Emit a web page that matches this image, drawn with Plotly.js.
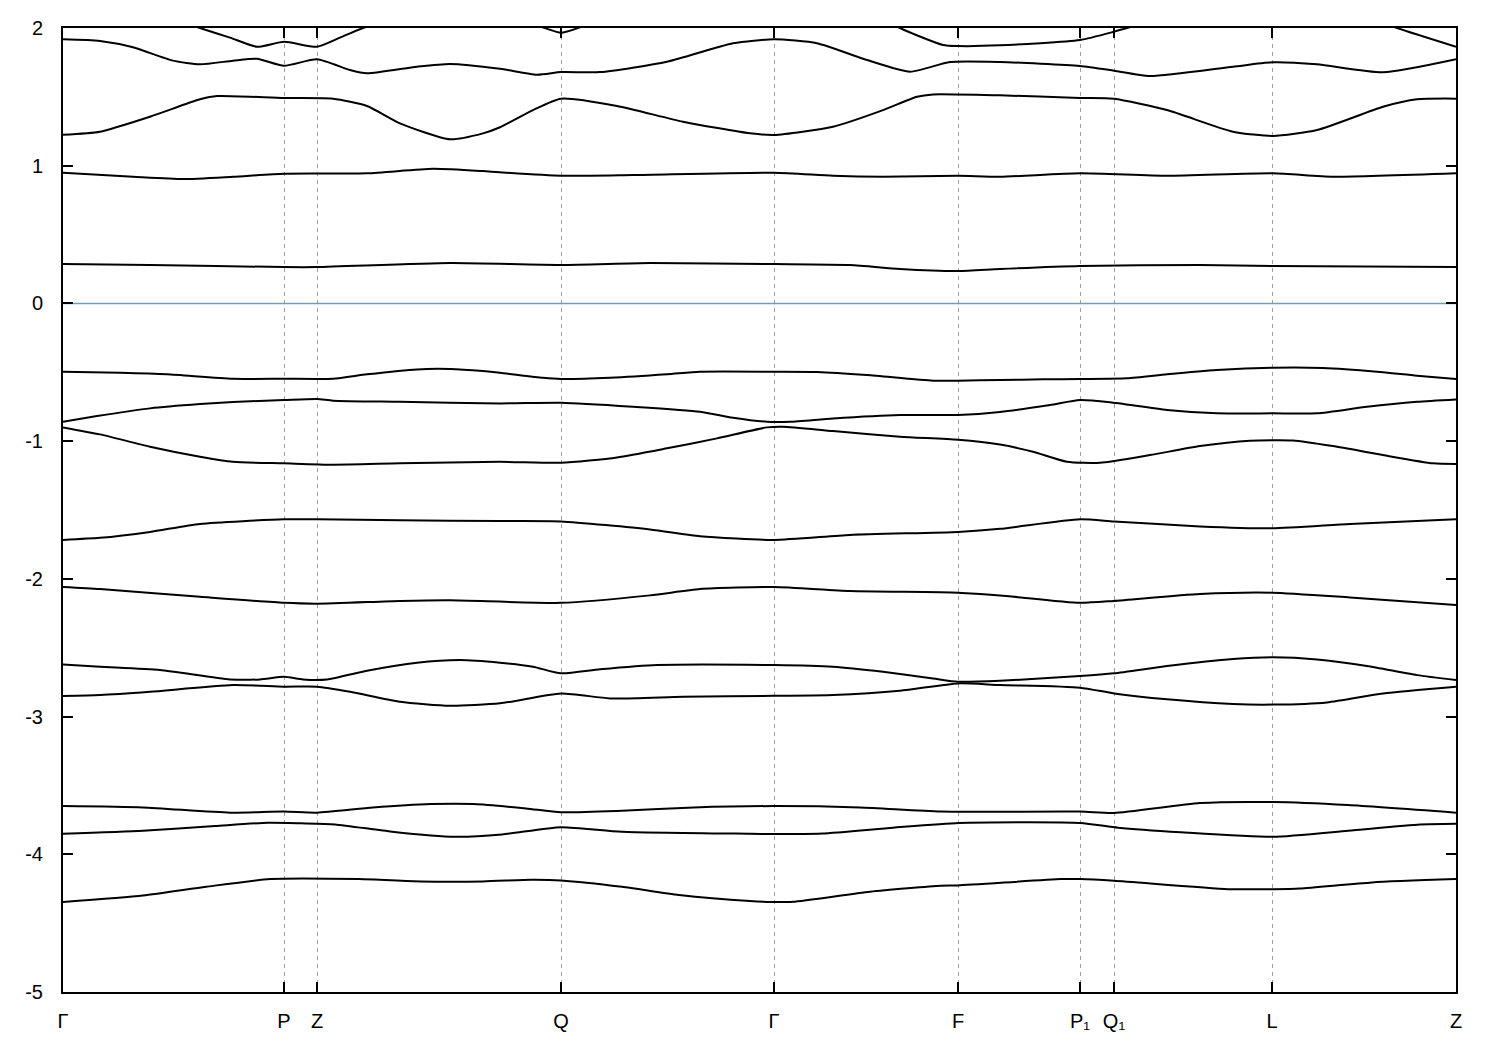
<!DOCTYPE html>
<html>
<head>
<meta charset="utf-8">
<script src="https://cdn.plot.ly/plotly-3.0.1.min.js"></script>
<style>html,body{margin:0;padding:0;background:#fff;}#chart{width:1500px;height:1050px;}</style>
</head>
<body>
<div id="chart"></div>
<script>
// High-symmetry points along the k-path
const kTicks = [0, 221, 254, 498, 711, 895, 1017, 1051, 1209, 1393];
const kLabels = ['Γ', 'P', 'Z', 'Q', 'Γ', 'F', 'P₁', 'Q₁', 'L', 'Z'];
const yTickVals = [-5, -4, -3, -2, -1, 0, 1, 2];
const yTickText = ['-5', '-4', '-3', '-2', '-1', '0', '1', '2'];
const fermiLevel = 0;

// Bands (k, energy in eV)
const bandA_k = [0, 80, 143, 207, 296, 358, 420, 468, 498, 559, 616, 687, 711, 730, 807, 878, 895, 998, 1017, 1051, 1165, 1210, 1237, 1309, 1393];
const bandA_E = [-4.347, -4.30, -4.236, -4.18, -4.18, -4.197, -4.197, -4.185, -4.19, -4.236, -4.296, -4.34, -4.347, -4.345, -4.272, -4.228, -4.226, -4.18, -4.18, -4.192, -4.253, -4.253, -4.248, -4.204, -4.18];

const bandB_k = [0, 80, 152, 205, 238, 272, 329, 392, 439, 498, 559, 687, 711, 759, 830, 896, 1017, 1055, 1118, 1210, 1285, 1357, 1393];
const bandB_E = [-3.851, -3.829, -3.795, -3.771, -3.775, -3.783, -3.836, -3.873, -3.856, -3.803, -3.836, -3.851, -3.853, -3.849, -3.807, -3.773, -3.773, -3.807, -3.84, -3.873, -3.829, -3.783, -3.778];

const bandC_k = [0, 80, 167, 221, 254, 310, 368, 411, 463, 498, 559, 631, 711, 797, 878, 1017, 1051, 1137, 1210, 1285, 1393];
const bandC_E = [-3.65, -3.66, -3.698, -3.69, -3.698, -3.66, -3.635, -3.635, -3.667, -3.695, -3.684, -3.66, -3.65, -3.66, -3.69, -3.69, -3.70, -3.628, -3.621, -3.643, -3.698];

const bandD_k = [0, 37, 97, 167, 197, 221, 240, 264, 304, 354, 397, 437, 470, 498, 537, 594, 711, 770, 820, 870, 895, 937, 1017, 1051, 1104, 1170, 1210, 1254, 1304, 1354, 1393];
const bandD_E = [-2.621, -2.638, -2.662, -2.73, -2.73, -2.711, -2.73, -2.73, -2.667, -2.609, -2.59, -2.609, -2.638, -2.686, -2.657, -2.626, -2.626, -2.638, -2.675, -2.723, -2.747, -2.74, -2.706, -2.686, -2.633, -2.582, -2.57, -2.585, -2.633, -2.699, -2.735];

const bandE_k = [0, 37, 87, 170, 221, 254, 287, 337, 387, 437, 498, 547, 620, 711, 770, 837, 895, 937, 1017, 1051, 1104, 1170, 1210, 1264, 1320, 1393];
const bandE_E = [-2.851, -2.844, -2.82, -2.771, -2.783, -2.783, -2.82, -2.892, -2.921, -2.904, -2.832, -2.868, -2.856, -2.849, -2.844, -2.813, -2.759, -2.771, -2.79, -2.832, -2.875, -2.909, -2.913, -2.897, -2.832, -2.783];

const bandF_k = [0, 37, 137, 221, 254, 337, 387, 498, 587, 637, 711, 787, 895, 937, 1017, 1051, 1137, 1209, 1287, 1393];
const bandF_E = [-2.059, -2.074, -2.13, -2.174, -2.18, -2.16, -2.155, -2.174, -2.12, -2.074, -2.059, -2.088, -2.10, -2.12, -2.174, -2.16, -2.11, -2.10, -2.135, -2.19];

const bandG_k = [0, 37, 87, 137, 221, 254, 337, 437, 498, 587, 637, 711, 787, 895, 937, 1017, 1051, 1137, 1209, 1287, 1393];
const bandG_E = [-1.717, -1.702, -1.659, -1.601, -1.568, -1.568, -1.575, -1.58, -1.583, -1.641, -1.691, -1.717, -1.681, -1.659, -1.637, -1.568, -1.583, -1.619, -1.633, -1.601, -1.568];

const bandH_k = [0, 57, 104, 170, 221, 270, 304, 354, 387, 420, 437, 480, 498, 547, 604, 637, 711, 754, 804, 870, 895, 937, 980, 1017, 1064, 1104, 1154, 1210, 1260, 1314, 1354, 1393];
const bandH_E = [-0.496, -0.504, -0.515, -0.547, -0.547, -0.547, -0.515, -0.479, -0.476, -0.491, -0.503, -0.54, -0.549, -0.54, -0.515, -0.496, -0.496, -0.498, -0.52, -0.561, -0.561, -0.556, -0.551, -0.549, -0.544, -0.515, -0.484, -0.467, -0.469, -0.496, -0.525, -0.549];

const bandI_k = [0, 34, 87, 137, 170, 221, 254, 270, 337, 437, 498, 570, 637, 670, 704, 727, 770, 837, 895, 937, 987, 1017, 1047, 1104, 1154, 1210, 1254, 1304, 1354, 1393];
const bandI_E = [-0.859, -0.818, -0.762, -0.731, -0.716, -0.702, -0.694, -0.706, -0.714, -0.726, -0.721, -0.75, -0.786, -0.83, -0.859, -0.859, -0.835, -0.81, -0.81, -0.788, -0.738, -0.702, -0.718, -0.774, -0.798, -0.798, -0.798, -0.75, -0.714, -0.697];

const bandJ_k = [0, 37, 87, 137, 170, 221, 270, 337, 437, 498, 554, 604, 654, 704, 720, 770, 837, 895, 937, 970, 1004, 1037, 1087, 1137, 1187, 1230, 1270, 1320, 1370, 1393];
const bandJ_E = [-0.90, -0.951, -1.04, -1.113, -1.15, -1.161, -1.171, -1.161, -1.15, -1.157, -1.118, -1.052, -0.98, -0.90, -0.895, -0.927, -0.968, -0.99, -1.025, -1.077, -1.15, -1.157, -1.101, -1.036, -0.997, -0.995, -1.036, -1.101, -1.161, -1.166];

const bandK_k = [0, 87, 221, 254, 387, 498, 587, 711, 787, 837, 895, 937, 1017, 1137, 1209, 1393];
const bandK_E = [0.286, 0.279, 0.264, 0.264, 0.293, 0.279, 0.293, 0.286, 0.279, 0.25, 0.235, 0.25, 0.272, 0.279, 0.272, 0.264];

const bandL_k = [0, 70, 120, 170, 221, 304, 370, 420, 437, 498, 570, 711, 770, 820, 895, 937, 1017, 1104, 1210, 1270, 1393];
const bandL_E = [0.949, 0.92, 0.903, 0.92, 0.942, 0.945, 0.978, 0.961, 0.952, 0.927, 0.932, 0.949, 0.927, 0.92, 0.927, 0.92, 0.945, 0.927, 0.945, 0.92, 0.945];

const bandM_k = [0, 37, 87, 137, 154, 221, 270, 304, 337, 387, 420, 437, 470, 498, 554, 620, 687, 711, 770, 820, 854, 870, 937, 1017, 1051, 1104, 1170, 1210, 1254, 1320, 1354, 1393];
const bandM_E = [1.225, 1.247, 1.356, 1.482, 1.506, 1.492, 1.487, 1.434, 1.308, 1.192, 1.235, 1.279, 1.404, 1.487, 1.434, 1.32, 1.235, 1.223, 1.283, 1.404, 1.501, 1.518, 1.511, 1.492, 1.487, 1.404, 1.247, 1.216, 1.259, 1.428, 1.482, 1.487];

const bandN_k = [0, 37, 70, 110, 137, 170, 194, 221, 254, 287, 304, 354, 387, 437, 474, 498, 537, 604, 670, 711, 754, 804, 847, 887, 937, 1017, 1051, 1087, 1170, 1210, 1254, 1320, 1393];
const bandN_E = [1.918, 1.906, 1.86, 1.763, 1.736, 1.763, 1.777, 1.726, 1.773, 1.695, 1.671, 1.719, 1.739, 1.704, 1.661, 1.68, 1.68, 1.755, 1.889, 1.918, 1.889, 1.768, 1.683, 1.753, 1.753, 1.724, 1.69, 1.651, 1.719, 1.751, 1.736, 1.678, 1.773];

const bandO_k = [0, 87, 137, 167, 194, 221, 254, 277, 300, 357, 437, 477, 498, 519, 587, 711, 787, 837, 880, 895, 937, 1017, 1051, 1064, 1137, 1210, 1287, 1334, 1393];
const bandO_E = [2.35, 2.12, 2.0, 1.93, 1.864, 1.90, 1.864, 1.93, 2.0, 2.12, 2.06, 2.01, 1.965, 2.01, 2.2, 2.35, 2.2, 2.0, 1.877, 1.869, 1.874, 1.913, 1.973, 2.0, 2.15, 2.3, 2.12, 2.0, 1.864];

const bands = [
  [bandA_k, bandA_E], [bandB_k, bandB_E], [bandC_k, bandC_E], [bandD_k, bandD_E],
  [bandE_k, bandE_E], [bandF_k, bandF_E], [bandG_k, bandG_E], [bandH_k, bandH_E],
  [bandI_k, bandI_E], [bandJ_k, bandJ_E], [bandK_k, bandK_E], [bandL_k, bandL_E],
  [bandM_k, bandM_E], [bandN_k, bandN_E], [bandO_k, bandO_E]
];

const kMin = kTicks[0], kMax = kTicks[kTicks.length - 1];

const traces = [{
  x: [kMin, kMax], y: [fermiLevel, fermiLevel],
  mode: 'lines', line: {color: '#4fa8dc', width: 1.5}, hoverinfo: 'skip'
}];
bands.forEach(b => traces.push({
  x: b[0], y: b[1], mode: 'lines',
  line: {color: '#000000', width: 2, shape: 'spline', smoothing: 0.6}, hoverinfo: 'skip'
}));

const tickFont = {family: 'Liberation Sans, DejaVu Sans, Arial, sans-serif', size: 20, color: '#000'};

const layout = {
  width: 1500, height: 1050,
  margin: {l: 63, r: 44, t: 28, b: 58},
  paper_bgcolor: '#fff', plot_bgcolor: '#fff',
  showlegend: false,
  xaxis: {
    range: [kMin, kMax],
    tickmode: 'array', tickvals: kTicks, ticktext: kLabels,
    ticks: 'inside', ticklen: 10, tickwidth: 2, tickcolor: '#000',
    showline: true, linecolor: '#000', linewidth: 2, mirror: 'ticks',
    showgrid: true, gridcolor: '#a0a0a0', gridwidth: 1, griddash: '4px,4px',
    zeroline: false, tickfont: tickFont, ticklabelstandoff: 10
  },
  yaxis: {
    range: [-5, 2],
    tickmode: 'array', tickvals: yTickVals, ticktext: yTickText,
    ticks: 'inside', ticklen: 10, tickwidth: 2, tickcolor: '#000',
    showline: true, linecolor: '#000', linewidth: 2, mirror: 'ticks',
    showgrid: false, zeroline: false, tickfont: tickFont, ticklabelstandoff: 14
  }
};

Plotly.newPlot('chart', traces, layout, {displayModeBar: false, staticPlot: true});
</script>
</body>
</html>
